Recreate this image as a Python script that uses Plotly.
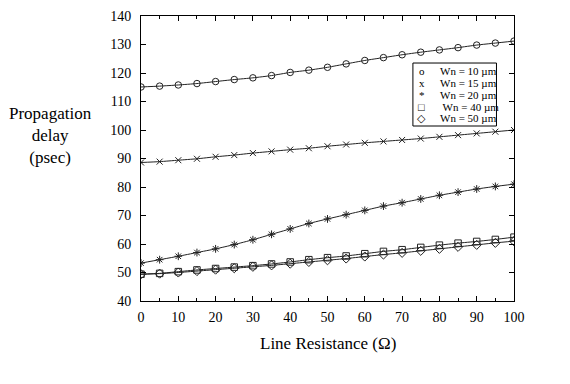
import plotly.graph_objects as go

resistance = [0, 5, 10, 15, 20, 25, 30, 35, 40, 45, 50, 55, 60, 65, 70, 75, 80, 85, 90, 95, 100]

delay_wn10 = [115.1, 115.4, 115.8, 116.3, 117.0, 117.7, 118.3, 119.1, 120.2, 121.0, 122.0,
              123.2, 124.4, 125.4, 126.4, 127.3, 128.1, 128.9, 129.8, 130.5, 131.2]
delay_wn15 = [88.6, 88.9, 89.4, 89.9, 90.6, 91.2, 91.9, 92.5, 93.1, 93.6, 94.3,
              94.9, 95.5, 96.0, 96.5, 97.0, 97.6, 98.2, 98.8, 99.4, 100.0]
delay_wn20 = [53.3, 54.5, 55.7, 57.0, 58.3, 59.8, 61.5, 63.4, 65.3, 67.2, 68.8,
              70.3, 71.8, 73.3, 74.5, 75.8, 77.1, 78.2, 79.3, 80.2, 81.0]
delay_wn40 = [49.4, 49.7, 50.3, 50.9, 51.4, 51.9, 52.4, 53.0, 53.7, 54.5, 55.2,
              55.8, 56.6, 57.4, 58.0, 58.8, 59.6, 60.3, 60.9, 61.6, 62.4]
delay_wn50 = [49.4, 49.6, 50.0, 50.5, 51.0, 51.5, 52.0, 52.5, 53.1, 53.7, 54.3,
              54.9, 55.6, 56.3, 56.9, 57.6, 58.3, 59.0, 59.7, 60.4, 61.0]

series_names = ["Wn = 10 µm", "Wn = 15 µm", "Wn = 20 µm", " Wn = 40 µm", "Wn = 50 µm"]
series_values = [delay_wn10, delay_wn15, delay_wn20, delay_wn40, delay_wn50]
legend_glyphs = ["o", "x", "*", "□", "◇"]
symbols = ["circle-open", "x-thin-open", "asterisk-open", "square-open", "diamond-open"]
sizes = [6.5, 6, 6.5, 6.5, 7]

x_ticks = list(range(0, 101, 10))
y_ticks = list(range(40, 141, 10))

# legend box placement (data units)
legend_box_x = [72.9, 95.3]
legend_box_y = [101.4, 123.5]
legend_glyph_x = 75.2
legend_text_x = 79.6
legend_rows_y = [120.6, 116.4, 112.3, 108.2, 104.1]

serif = "Liberation Serif, Times New Roman, serif"

fig = go.Figure()
for name, vals, sym, sz in zip(series_names, series_values, symbols, sizes):
    fig.add_trace(go.Scatter(
        x=resistance, y=vals, mode="lines+markers", name=name.strip(), showlegend=False,
        line=dict(color="#222222", width=1, shape="spline", smoothing=0.6),
        marker=dict(symbol=sym, size=sz, color="#222222", line=dict(width=1, color="#222222")),
    ))

W, H = 570, 384
L, R, T, B = 141, 56, 9, 83

annotations = [
    dict(text="Propagation<br>delay<br>(psec)", xref="paper", yref="y",
         x=(50 - L) / (W - L - R), y=98.2, xanchor="center", yanchor="middle",
         showarrow=False, font=dict(family=serif, size=17, color="black")),
    dict(text="Line Resistance (Ω)", xref="paper", yref="paper",
         x=0.5, y=(H - B - 345) / (H - T - B), xanchor="center", yanchor="middle",
         showarrow=False, font=dict(family=serif, size=17, color="black")),
]
for glyph, name, yy in zip(legend_glyphs, series_names, legend_rows_y):
    annotations.append(dict(text=glyph, xref="x", yref="y", x=legend_glyph_x, y=yy,
                            xanchor="center", yanchor="middle", showarrow=False,
                            font=dict(family=serif, size=11, color="black")))
    annotations.append(dict(text=name, xref="x", yref="y", x=legend_text_x, y=yy,
                            xanchor="left", yanchor="middle", showarrow=False,
                            font=dict(family=serif, size=11, color="black")))

fig.update_layout(
    width=W, height=H,
    margin=dict(l=L, r=R, t=T, b=B),
    paper_bgcolor="white", plot_bgcolor="white",
    font=dict(family=serif, color="black", size=14),
    showlegend=False,
    hovermode=False,
    xaxis=dict(
        range=[0, 100], tickvals=x_ticks, ticks="inside", ticklen=5, tickcolor="black",
        showline=True, linecolor="black", linewidth=1, mirror="ticks",
        showgrid=False, zeroline=False,
        minor=dict(dtick=5, ticks="inside", ticklen=3, tickcolor="black"),
        tickfont=dict(family=serif, size=14),
        ticklabelstandoff=3,
    ),
    yaxis=dict(
        range=[40, 140], tickvals=y_ticks, ticks="inside", ticklen=5, tickcolor="black",
        showline=True, linecolor="black", linewidth=1, mirror="ticks",
        showgrid=False, zeroline=False,
        tickfont=dict(family=serif, size=14),
        ticklabelstandoff=6,
    ),
    shapes=[dict(type="rect", xref="x", yref="y",
                 x0=legend_box_x[0], x1=legend_box_x[1],
                 y0=legend_box_y[0], y1=legend_box_y[1],
                 line=dict(color="black", width=1), fillcolor="white", layer="above")],
    annotations=annotations,
)

fig.write_html("out.html", config={"displayModeBar": False, "staticPlot": True},
               post_script="document.body.style.margin='0';document.body.style.overflow='hidden';")
